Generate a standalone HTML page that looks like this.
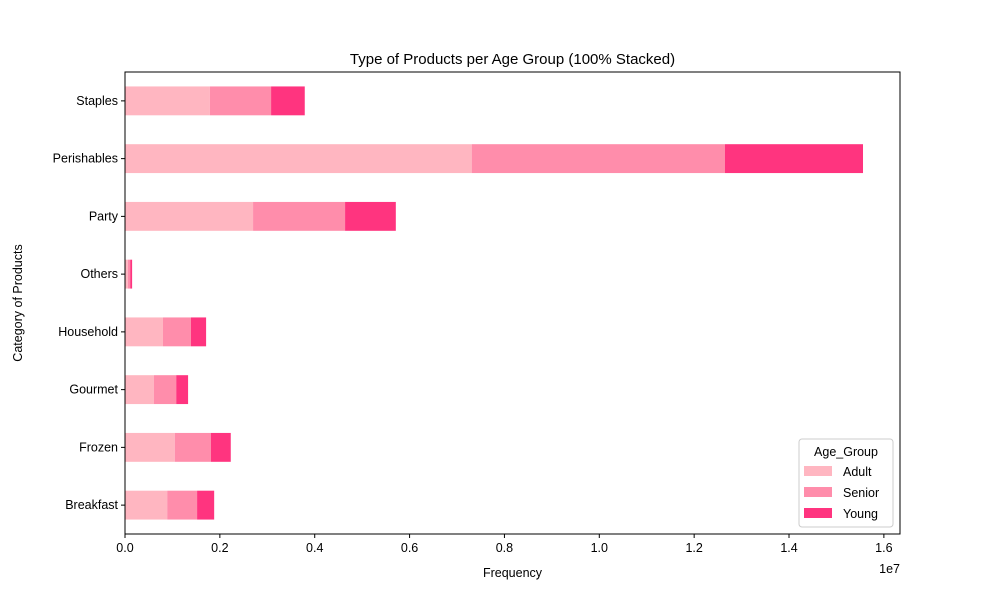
<!DOCTYPE html>
<html><head><meta charset="utf-8"><style>
body{margin:0;background:#fff;font-family:"Liberation Sans","DejaVu Sans",sans-serif}
</style></head><body>
<svg id="chart" width="1000" height="600" xmlns="http://www.w3.org/2000/svg" font-family="Liberation Sans, DejaVu Sans, sans-serif">
<g id="marks"></g>
<g id="axes"></g>
</svg>
<script>
const categories=["Staples","Perishables","Party","Others","Household","Gourmet","Frozen","Breakfast"];
const adult=[0.179,0.731,0.270,0.006,0.080,0.061,0.105,0.089];
const senior=[0.129,0.534,0.194,0.005,0.059,0.047,0.076,0.063];
const young=[0.071,0.291,0.107,0.004,0.032,0.025,0.042,0.036];
const xTicks=[0,0.2,0.4,0.6,0.8,1.0,1.2,1.4,1.6];
const seriesNames=["Adult","Senior","Young"];
const colors=["#ffb6c1","#ff8dab","#ff347f"];
const L=125,R=900,T=72,B=534,XMAX=1.634;
const x=v=>L+v/XMAX*(R-L);
const band=(B-T)/categories.length;
const y=i=>T+band*(i+0.5);
const bh=band*0.5;
const NS="http://www.w3.org/2000/svg";
const marks=document.getElementById('marks'),axes=document.getElementById('axes');
function mk(tag,attrs,parent,text){const e=document.createElementNS(NS,tag);for(const k in attrs)e.setAttribute(k,attrs[k]);if(text!==undefined)e.textContent=text;parent.appendChild(e);return e;}
const series=[adult,senior,young];
categories.forEach((c,i)=>{let acc=0;series.forEach((s,j)=>{
 const r=mk('rect',{x:x(acc),y:y(i)-bh/2,width:x(acc+s[i])-x(acc),height:bh,fill:colors[j]},marks);
 
 
 acc+=s[i];});
 mk('line',{x1:L-4,x2:L,y1:y(i),y2:y(i),stroke:'#000'},axes);
 const t=mk('text',{x:L-7,y:y(i)+4,'text-anchor':'end','font-size':12.5},axes,c);
 
 
});
mk('rect',{x:L,y:T,width:R-L,height:B-T,fill:'none',stroke:'#000','stroke-width':1},axes);
xTicks.forEach(v=>{mk('line',{x1:x(v),x2:x(v),y1:B,y2:B+4,stroke:'#000'},axes);
 const t=mk('text',{x:x(v),y:B+18,'text-anchor':'middle','font-size':12.5},axes,v.toFixed(1));
 
 });
let e=mk('text',{x:R,y:B+39,'text-anchor':'end','font-size':12.5},axes,'1e7');

e=mk('text',{x:(L+R)/2,y:B+43,'text-anchor':'middle','font-size':12.5},axes,'Frequency');

e=mk('text',{x:27,y:(T+B)/2,'text-anchor':'middle','font-size':12.5,transform:`rotate(-90 27 ${(T+B)/2})`},axes,'Category of Products');
e.setAttribute('x',22);e.setAttribute('transform',`rotate(-90 22 ${(T+B)/2})`);

e=mk('text',{x:(L+R)/2,y:T-8,'text-anchor':'middle','font-size':15},axes,'Type of Products per Age Group (100% Stacked)');

const lg=mk('g',{},axes);

mk('rect',{x:799,y:439,width:94,height:88,rx:3,fill:'#fff',stroke:'#ccc'},lg);
mk('text',{x:846,y:456,'text-anchor':'middle','font-size':12.5},lg,'Age_Group');
seriesNames.forEach((n,j)=>{mk('rect',{x:804,y:466+j*21,width:28,height:10,fill:colors[j]},lg);
 const t=mk('text',{x:843,y:476+j*21,'font-size':12.5},lg,n);
 });
</script>
</body></html>
